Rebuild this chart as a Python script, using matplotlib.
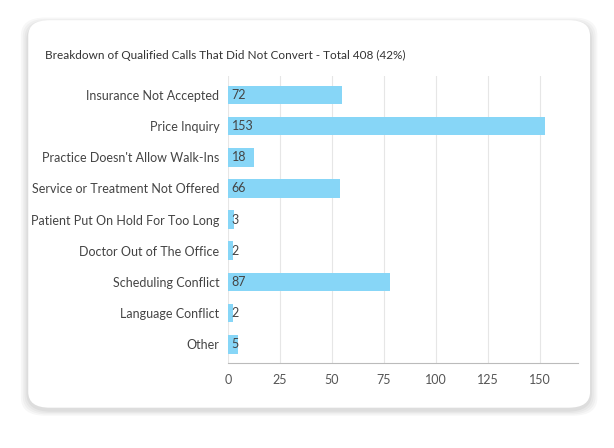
import matplotlib
matplotlib.use("Agg")
import matplotlib.pyplot as plt
from matplotlib.patches import FancyBboxPatch

plt.rcParams["font.family"] = "Lato"

categories = [
    "Insurance Not Accepted",
    "Price Inquiry",
    "Practice Doesn't Allow Walk-Ins",
    "Service or Treatment Not Offered",
    "Patient Put On Hold For Too Long",
    "Doctor Out of The Office",
    "Scheduling Conflict",
    "Language Conflict",
    "Other",
]
# bar lengths as drawn (axis units) and the counts printed on them
bar_lengths = [55, 152.5, 12.5, 54, 3, 2.4, 78, 2.4, 5]
labels = [72, 153, 18, 66, 3, 2, 87, 2, 5]
xticks = [0, 25, 50, 75, 100, 125, 150]

fig = plt.figure(figsize=(6.14, 4.48), dpi=100)
fig.patch.set_facecolor("white")

# card with soft shadow
for i, a in enumerate([0.03, 0.03, 0.03, 0.04]):
    pad = 0.012 - i * 0.003
    fig.patches.append(FancyBboxPatch((0.046 - pad, 0.09 - pad - 0.006), 0.915 + 2 * pad, 0.865 + 2 * pad,
                                      boxstyle="round,pad=0,rounding_size=0.04", transform=fig.transFigure,
                                      facecolor="black", alpha=a, edgecolor="none", zorder=0))
fig.patches.append(FancyBboxPatch((0.046, 0.09), 0.915, 0.865, boxstyle="round,pad=0,rounding_size=0.035",
                                  transform=fig.transFigure, facecolor="white", edgecolor="none", zorder=1))

fig.text(0.073, 0.868, "Breakdown of Qualified Calls That Did Not Convert - Total 408 (42%)",
         fontsize=8.5, color="#333333", zorder=3)

ax = fig.add_axes([0.371, 0.19, 0.57, 0.64])
ax.set_zorder(2)
ax.patch.set_alpha(0)
y = list(range(len(categories)))
ax.barh(y, bar_lengths, height=0.6, color="#87d6f7", zorder=2)
for yi, v in zip(y, labels):
    ax.text(1.8, yi, str(v), va="center", ha="left", fontsize=9, color="#444444", zorder=3)
ax.set_yticks(y)
ax.set_yticklabels(categories, fontsize=9, color="#444444")
ax.invert_yaxis()
ax.set_ylim(8.6, -0.6)
ax.set_xlim(0, 168)
ax.set_xticks(xticks)
ax.tick_params(axis="x", labelsize=9, colors="#555555", length=0, pad=8)
ax.tick_params(axis="y", length=0, pad=6)
ax.grid(axis="x", color="#e6e6e6", linewidth=0.8, zorder=0)
for s in ["top", "right", "left"]:
    ax.spines[s].set_visible(False)
ax.spines["bottom"].set_color("#bbbbbb")

fig.savefig("out.png", dpi=100)
